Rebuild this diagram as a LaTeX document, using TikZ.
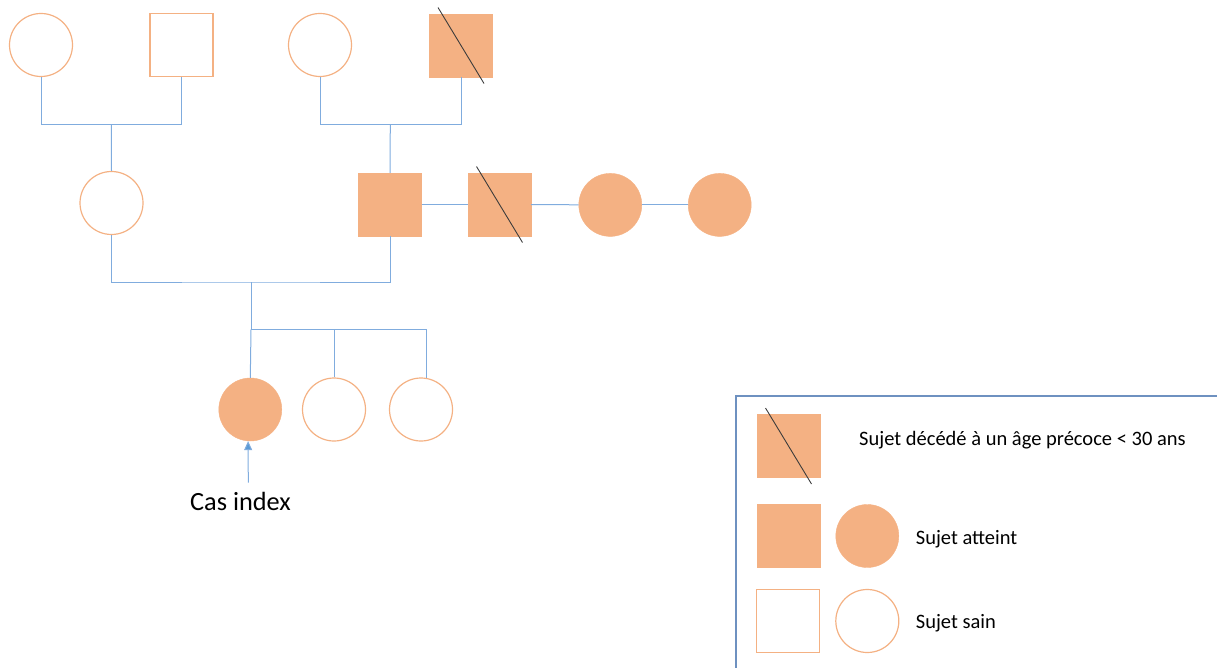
\documentclass[tikz,border=0pt]{standalone}
\usepackage{fontspec}
\setmainfont{Carlito}
\usetikzlibrary{arrows.meta}
\definecolor{aff}{HTML}{F4B183}
\definecolor{lnk}{RGB}{128,172,222}
\definecolor{arw}{RGB}{91,155,213}
\definecolor{lgd}{RGB}{110,145,192}
\definecolor{sl}{RGB}{60,60,60}
\tikzset{
  person/.style={minimum size=63pt, inner sep=0pt, line width=1.2pt},
  fem/.style={person, circle, draw=aff, fill=white},
  mal/.style={person, rectangle, draw=aff, fill=white},
  femA/.style={person, circle, draw=aff, fill=aff, line width=0.4pt},
  malA/.style={person, rectangle, draw=aff, fill=aff, line width=0.4pt},
  link/.style={draw=lnk, line width=1pt},
  slash/.style={draw=sl, line width=0.9pt},
  lbl/.style={anchor=base west, inner sep=0pt, font=\fontsize{20.5}{24}\selectfont},
}
\newcommand{\deceased}[1]{\draw[slash] ([shift={(-23,-38)}]#1.center) -- ([shift={(23,38)}]#1.center);}
\begin{document}
\begin{tikzpicture}[x=1pt,y=-1pt]
\useasboundingbox (0,0) rectangle (1217,668);
% generation I
\node[fem] (gm1) at (41,45) {};
\node[mal] (gf1) at (181.5,45) {};
\node[fem] (gm2) at (320,45) {};
\node[malA] (gf2) at (461,45.5) {};
\deceased{gf2}
% generation II
\node[fem] (mo) at (111.5,203) {};
\node[malA] (fa) at (390,204.5) {};
\node[malA] (un) at (499.5,204.5) {};
\deceased{un}
\node[femA] (au1) at (610.3,204.9) {};
\node[femA] (au2) at (719.7,204.9) {};
% generation III
\node[femA] (idx) at (250.3,409.5) {};
\node[fem] (s1) at (334,409.5) {};
\node[fem] (s2) at (421,409.5) {};
% couple / sibship lines
\coordinate (m1) at (111.3,124.3);
\coordinate (m2) at (390.3,124.3);
\coordinate (m3) at (251,282);
\coordinate (sb) at (251,329.5);
\draw[link] (gm1.south) |- (m1) -| (gf1.south);
\draw[link] (m1) -- (mo.north);
\draw[link] (gm2.south) |- (m2) -| (gf2.south);
\draw[link] (m2) -- (fa.north);
\draw[link] (mo.south) |- (m3) -| (fa.south);
\draw[link] (m3) -- (sb);
\draw[link] (sb) -- (idx.north);
\draw[link] (sb) -| (s1.north);
\draw[link] (sb) -| (s2.80);
\draw[link] (fa) -- (un);
\draw[link] (un) -- (au1);
\draw[link] (au1) -- (au2);
% index case
\coordinate (ar) at (248.3,482.7);
\draw[link, -{Triangle[width=8pt,length=9pt,fill=arw]}] (ar) -- (idx.-94);
\node[anchor=base west, inner sep=0pt, font=\fontsize{26.3}{30}\selectfont] (ci) at (190,510.5) {Cas index};
% legend
\draw[draw=lgd, line width=1.5pt] (736,670) -- (736,396) -- (1219,396);
\node[malA] (l1) at (788.5,446) {};
\deceased{l1}
\node[lbl] (t1) at (859,445.5) {Sujet décédé à un âge précoce < 30 ans};
\node[malA] (l2) at (788.3,536) {};
\node[femA] (l3) at (867.3,536) {};
\node[lbl] (t2) at (915.7,544.3) {Sujet atteint};
\node[mal] (l4) at (788.3,621) {};
\node[fem] (l5) at (867.3,621) {};
\node[lbl] (t3) at (915.7,628.7) {Sujet sain};
\end{tikzpicture}
\end{document}
